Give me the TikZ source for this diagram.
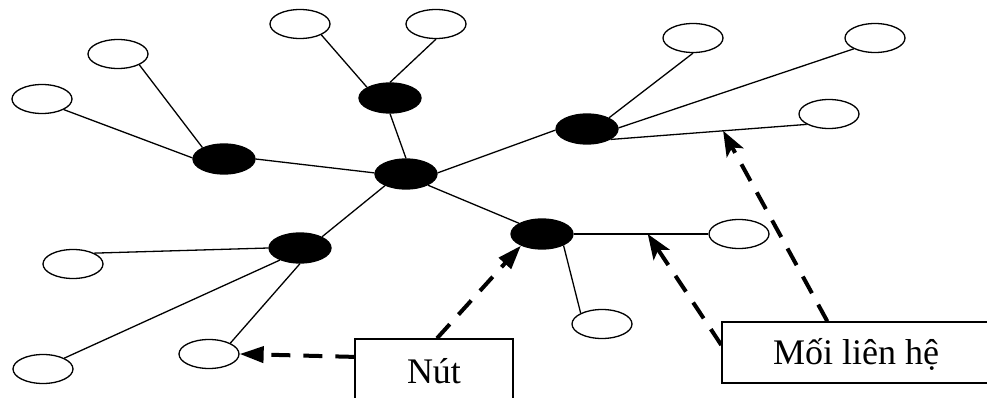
\documentclass[tikz,border=0pt]{standalone}
\usepackage{fontspec}
\setmainfont{Liberation Serif}
\usetikzlibrary{shapes.geometric,arrows.meta,calc}
\begin{document}
\begin{tikzpicture}[x=1pt,y=-1pt,
  leaf/.style={ellipse,draw,line width=1.3pt,fill=white,minimum width=60pt,minimum height=29pt,inner sep=0pt},
  hub/.style={ellipse,draw,fill=black,line width=1.3pt,minimum width=62pt,minimum height=30pt,inner sep=0pt},
  link/.style={line width=1.3pt},
  callout/.style={draw,line width=1.4pt,fill=white,inner sep=0pt,
    font=\fontsize{36}{40}\selectfont,text height=23pt,text depth=0pt},
  pointer/.style={line width=4pt,dash pattern=on 19pt off 13pt},
  tri/.style={pointer,-{Triangle[length=24pt,width=16pt]}},
  notch/.style={pointer,-{Stealth[length=25pt,width=19pt,inset=6pt]}}
]
\useasboundingbox (0,0) rectangle (987,398);

% hubs
\node[hub] (C)  at (406,174) {};
\node[hub] (B1) at (390,98)  {};
\node[hub] (B2) at (224,159) {};
\node[hub] (B3) at (587,129) {};
\node[hub] (B4) at (300,248) {};
\node[hub] (B5) at (542,234) {};

% leaves
\node[leaf] (W1)  at (42,99)   {};
\node[leaf] (W2)  at (118,54)  {};
\node[leaf] (W3)  at (300,24)  {};
\node[leaf] (W4)  at (436,24)  {};
\node[leaf] (W5)  at (693,38)  {};
\node[leaf] (W6)  at (875,38)  {};
\node[leaf] (W7)  at (829,114) {};
\node[leaf] (W8)  at (73,264)  {};
\node[leaf] (W9)  at (43,369)  {};
\node[leaf] (W10) at (209,354) {};
\node[leaf] (W11) at (602,324) {};
\node[leaf] (W12) at (739,234) {};

% links from the central hub
\draw[link] (C.90)  -- (B1.270);
\draw[link] (C.178) -- (B2.0);
\draw[link] (C.2)   -- (B3.182);
\draw[link] (C.209) -- (B4.27);
\draw[link] (C.333) -- (B5.155);

% links to the leaves
\draw[link] (B1.155) -- (W3.333);
\draw[link] (B1.90)  -- (W4.270);
\draw[link] (B2.178) -- (W1.334);
\draw[link] (B2.152) -- (W2.333);
\draw[link] (B3.27)  -- (W5.270);
\draw[link] (B3.2)   -- (W6.207);
\draw[link] (B3.336) -- (W7.205);
\draw[link] (B4.180) -- (W8.27);
\draw[link] (B4.211) -- (W9.27);
\draw[link] (B4.270) -- (W10.27);
\draw[link] (B5.332) -- (W11.153);
\draw[link] (B5.0)   -- (W12.180);

% labels
\node[callout,minimum width=158pt,minimum height=65pt] (nut) at (434,371.5) {Nút};
\node[callout,minimum width=268pt,minimum height=61pt] (moi) at (856,352.5) {Mối liên hệ};

% pointers
\draw[tri] ($(nut.north west)!0.28!(nut.south west)$) -- (W10.east);
\draw[tri] ($(nut.north)+(3,0)$) -- (B5.209);
\draw[notch] ($(moi.north west)!0.38!(moi.south west)$) -- ($(B5.0)!0.55!(W12.180)$);
\draw[notch] ($(moi.north west)+(106,0)$) -- ($(B3.336)!0.574!(W7.205)$);
\end{tikzpicture}
\end{document}
